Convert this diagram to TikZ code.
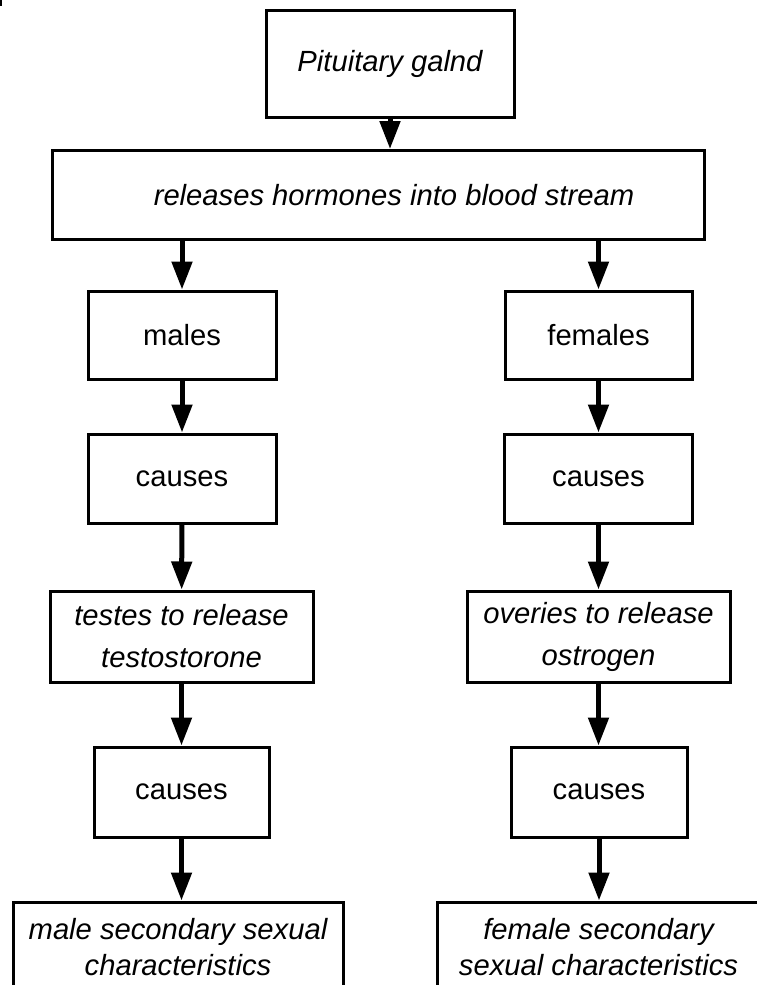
\documentclass[tikz,border=0pt]{standalone}
\usepackage{fontspec}
\setmainfont{Liberation Sans}
\usetikzlibrary{arrows.meta}
\begin{document}
\begin{tikzpicture}[x=1pt,y=-1pt,
  box/.style={draw, line width=3pt, inner sep=0pt, align=center,
    font=\fontsize{29.2}{40}\selectfont},
  itbox/.style={box, font=\fontsize{29.2}{#1}\selectfont\itshape},
  itbox/.default=40,
  flow/.style={line width=5pt, -{Triangle[length=28pt,width=20pt]}}]
\useasboundingbox (0,0) rectangle (756,985);
% small mark in the corner
\fill (0,0) rectangle (2,6);

% top of the chart
\node[itbox, minimum width=248, minimum height=107] (pit) at (390,63.5) {Pituitary galnd};
\node[box, minimum width=652, minimum height=89] (rel) at (378,195) {};
\node[font=\fontsize{29.2}{40}\selectfont\itshape, inner sep=0pt] (reltext) at (394,195)
  {releases hormones into blood stream};

% male branch
\node[box, minimum width=188, minimum height=88] (m1) at (182,335) {males};
\node[box, minimum width=188, minimum height=89] (m2) at (182,478.5) {causes};
\node[itbox=42, minimum width=263, minimum height=91] (m3) at (181.5,636.5)
  {testes to release\\ testostorone};
\node[box, minimum width=175, minimum height=90] (m4) at (181.5,792) {causes};
\node[itbox=36, minimum width=330, minimum height=90] (m5) at (178,947)
  {male secondary sexual\\ characteristics};

% female branch
\node[box, minimum width=187, minimum height=88] (f1) at (598.5,335) {females};
\node[box, minimum width=188, minimum height=89] (f2) at (598.5,478.5) {causes};
\node[itbox=42, minimum width=263, minimum height=91] (f3) at (598.5,636.5)
  {overies to release\\ ostrogen};
\node[box, minimum width=176, minimum height=90] (f4) at (599,792) {causes};
\node[itbox=36, minimum width=323, minimum height=90] (f5) at (598.5,947)
  {female secondary\\ sexual characteristics};

% connectors
\draw[flow] (pit.south) -- (pit.south |- rel.north);
\draw[flow] (rel.south -| m1.north) -- (m1.north);
\draw[flow] (rel.south -| f1.north) -- (f1.north);
\draw[flow] (m1) -- (m2);
\draw[flow] (m2) -- (m3);
\draw[flow] (m3.south) -- (m3.south |- m4.north);
\draw[flow] (m4.south) -- (m4.south |- m5.north);
\draw[flow] (f1) -- (f2);
\draw[flow] (f2) -- (f3);
\draw[flow] (f3.south) -- (f3.south |- f4.north);
\draw[flow] (f4.south) -- (f4.south |- f5.north);
\end{tikzpicture}
\end{document}
